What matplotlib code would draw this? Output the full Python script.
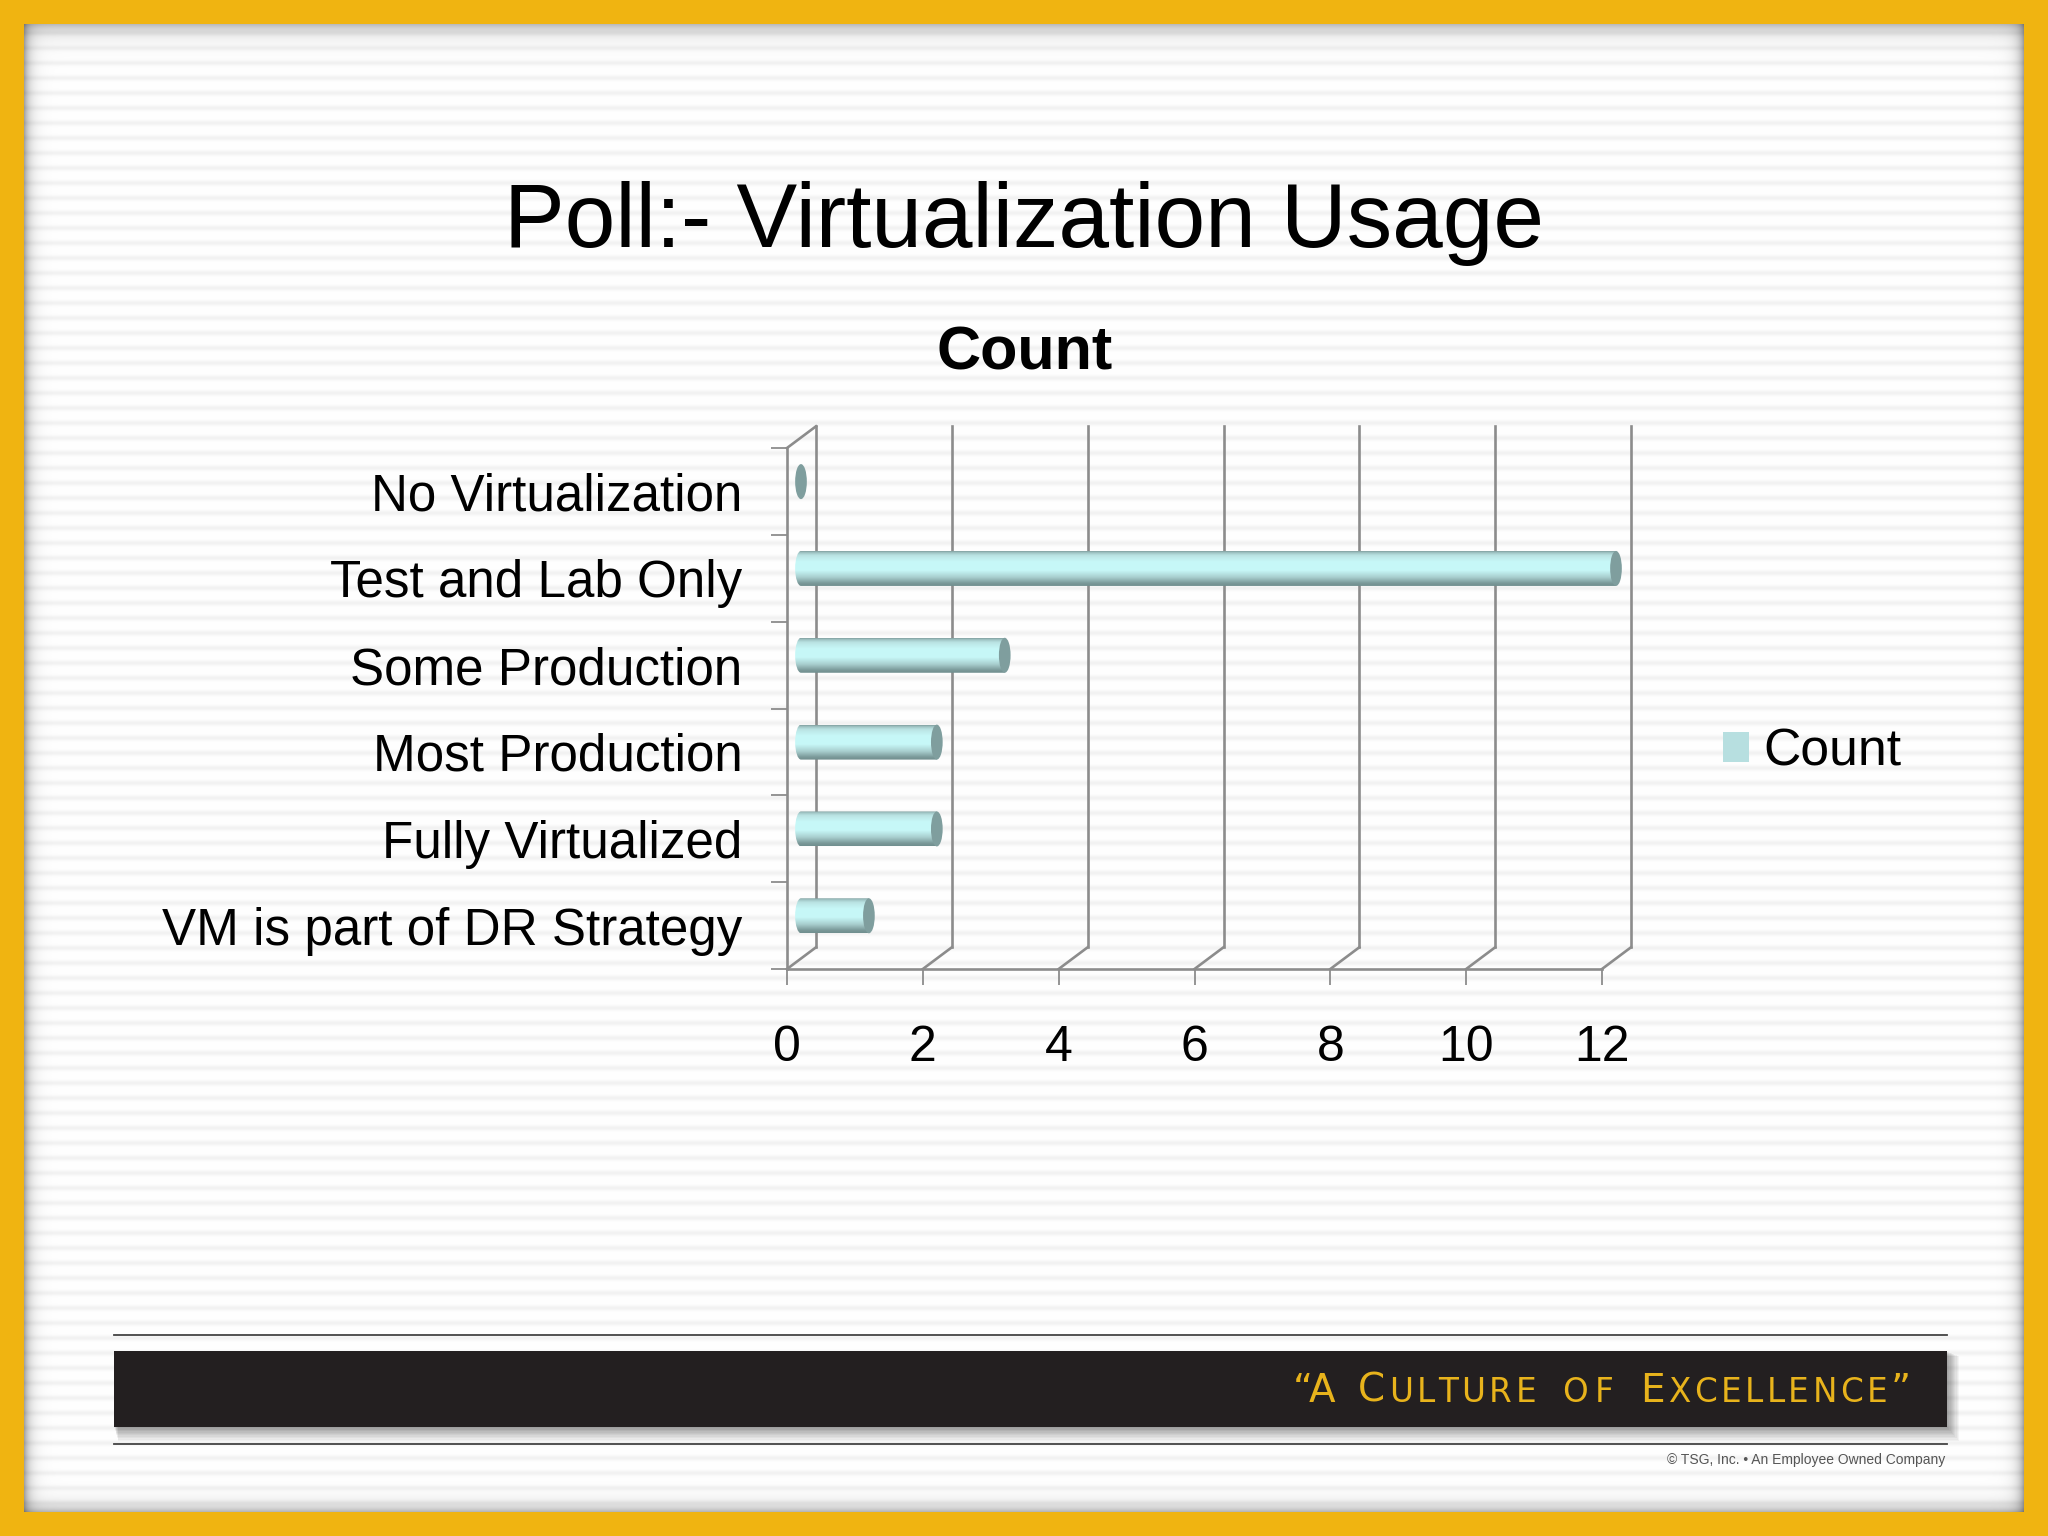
import numpy as np
import matplotlib
matplotlib.use("Agg")
import matplotlib.pyplot as plt
from matplotlib.patches import Rectangle, Ellipse, PathPatch, Patch
from matplotlib.path import Path

W, H = 2048, 1536
categories = ["No Virtualization", "Test and Lab Only", "Some Production",
              "Most Production", "Fully Virtualized", "VM is part of DR Strategy"]
counts = [0, 12, 3, 2, 2, 1]
x_ticks = [0, 2, 4, 6, 8, 10, 12]
title = "Poll:- Virtualization Usage"
chart_title = "Count"
series_name = "Count"
footer_words = ["\u201cA", "CULTURE", "OF", "EXCELLENCE\u201d"]
footer_spans = [(1293, 1335), (1358, 1536), (1562, 1614), (1640, 1911)]
copyright_text = "\u00a9 TSG, Inc. \u2022 An Employee Owned Company"

plt.rcParams["font.family"] = ["Liberation Sans", "DejaVu Sans"]
GOLD = "#F0B411"
GRID = "#8c8c8c"
CAP = "#7F9E9E"

fig = plt.figure(figsize=(W / 100, H / 100), dpi=100, facecolor=GOLD)

# ---------- slide background in pixel coordinates ----------
bg = fig.add_axes([0, 0, 1, 1], zorder=0)
bg.set_xlim(0, W)
bg.set_ylim(H, 0)
bg.axis("off")

L, R, T, B = 24, 2024, 24, 1512
yy = np.arange(T, B) + 0.5
xx = np.arange(L, R) + 0.5
phase = ((yy - 48 + 7.5) % 15) - 7.5
stripe = 1 - 0.05 * np.exp(-(phase / 2.6) ** 2)
panel = np.repeat(stripe[:, None], xx.size, axis=1)
shade = (1 - 0.28 * np.exp(-(yy - T) / 9))[:, None] * (1 - 0.30 * np.exp(-(B - yy) / 7))[:, None]
shade = shade * (1 - 0.38 * np.exp(-(xx - L) / 6))[None, :] * (1 - 0.38 * np.exp(-(R - xx) / 6))[None, :]
panel = panel * shade
bg.imshow(np.dstack([panel] * 3), extent=(L, R, B, T), aspect="auto", vmin=0, vmax=1, zorder=0)
bg.set_xlim(0, W)
bg.set_ylim(H, 0)

# footer band with drop shadow
for k in range(10, 0, -1):
    bg.add_patch(Rectangle((114 + k * 0.4, 1351 + k * 0.5), 1833 + k * 0.8, 76 + k * 0.9,
                           fc="black", ec="none", alpha=0.04, zorder=1))
bg.add_patch(Rectangle((114, 1351), 1833, 76, fc="#231F20", ec="none", zorder=2))
bg.plot([114, 1947], [1335, 1335], color="#444444", lw=1.3, zorder=2)
bg.plot([114, 1947], [1444, 1444], color="#444444", lw=1.3, zorder=2)

fig.canvas.draw()
renderer = fig.canvas.get_renderer()
inv = bg.transData.inverted()


def px_width(artist):
    e = artist.get_window_extent(renderer)
    return inv.transform((e.x1, e.y0))[0] - inv.transform((e.x0, e.y0))[0]


for word, (xa, xb) in zip(footer_words, footer_spans):
    chars = []
    for idx, ch in enumerate(word):
        big = (idx == 0 and word != "OF") or ch in "\u201c\u201dA"
        chars.append(bg.text(xa, 1402, ch, fontsize=28 if big else 23.5, color="#E8B31C",
                             family=["DejaVu Sans"], ha="left", va="baseline", zorder=3))
    widths = [px_width(c) for c in chars]
    gap = (xb - xa - sum(widths)) / max(len(chars) - 1, 1)
    cursor = float(xa)
    for c, wd in zip(chars, widths):
        c.set_x(cursor)
        cursor += wd + gap

bg.text(1945, 1460, copyright_text, fontsize=10, color="#555555", ha="right", va="center",
        family=["Liberation Sans", "DejaVu Sans"], zorder=3)

# ---------- titles ----------
fig.text(1024 / W, 1 - 224 / H, title, fontsize=65.5, color="black", ha="center", va="center")
fig.text(1025 / W, 1 - 354 / H, chart_title, fontsize=44, fontweight="bold", color="black",
         ha="center", va="center")

# ---------- chart ----------
x0, x12, y_top, y_bot = 787, 1602, 448, 969
ax = fig.add_axes([x0 / W, 1 - y_bot / H, (x12 - x0) / W, (y_bot - y_top) / H], zorder=2)
ax.patch.set_alpha(0)
ax.set_xlim(0, 12)
ax.set_ylim(len(categories), 0)

DX, DY = 0.427, 0.25   # depth of the pseudo-3D box, in data units
for side in ("top", "right"):
    ax.spines[side].set_visible(False)
for side in ("left", "bottom"):
    ax.spines[side].set_color(GRID)
    ax.spines[side].set_linewidth(1.9)

n = len(categories)
ax.plot([0, DX], [0, -DY], color=GRID, lw=1.9, clip_on=False, zorder=1)
for v in x_ticks:
    ax.plot([v + DX, v + DX], [n - DY, -DY], color=GRID, lw=1.9, clip_on=False, zorder=1)
    ax.plot([v, v + DX], [n, n - DY], color=GRID, lw=1.9, clip_on=False, zorder=1)

ax.set_xticks(x_ticks)
ax.set_xticklabels([str(v) for v in x_ticks], fontsize=36)
ax.set_yticks(np.arange(n + 1))
ax.set_yticklabels([""] * (n + 1))
ax.tick_params(axis="both", length=11.5, width=1.3, color=GRID)
ax.tick_params(axis="x", pad=29)
ax.set_yticks(np.arange(n) + 0.5, minor=True)
ax.set_yticklabels(categories, minor=True, fontsize=36.8, ha="right")
ax.tick_params(axis="y", which="minor", length=0, pad=32)

# cylinders
stops = np.array([0.0, 0.03, 0.12, 0.30, 0.55, 0.75, 0.92, 1.0])
reds = np.array([0.50, 0.60, 0.73, 0.78, 0.78, 0.66, 0.48, 0.44])
greens = np.array([0.62, 0.74, 0.89, 0.97, 0.97, 0.81, 0.60, 0.56])
blues = np.array([0.62, 0.74, 0.89, 0.97, 0.97, 0.81, 0.60, 0.56])
s = np.linspace(0, 1, 128)
grad = np.dstack([np.interp(s, stops, c)[:, None] for c in (reds, greens, blues)])

BAR_X, BAR_Y, CAP_W, CAP_H = 0.206, -0.113, 0.172, 0.403
for i, v in enumerate(counts):
    cy = i + 0.5 + BAR_Y
    top, bot = cy - CAP_H / 2, cy + CAP_H / 2
    left, right = BAR_X, BAR_X + v
    if v > 0:
        k = 0.5523
        a = CAP_W / 2
        verts = [(right, top), (left, top),
                 (left - a * k, top), (left - a, cy - CAP_H / 2 * k), (left - a, cy),
                 (left - a, cy + CAP_H / 2 * k), (left - a * k, bot), (left, bot),
                 (right, bot), (right, top)]
        codes = [Path.MOVETO, Path.LINETO, Path.CURVE4, Path.CURVE4, Path.CURVE4,
                 Path.CURVE4, Path.CURVE4, Path.CURVE4, Path.LINETO, Path.CLOSEPOLY]
        body = PathPatch(Path(verts, codes), transform=ax.transData, fc="none", ec="none",
                         clip_on=False)
        ax.add_patch(body)
        im = ax.imshow(grad, extent=(left - a, right, bot, top), aspect="auto", zorder=3,
                       interpolation="bilinear")
        im.set_clip_box(fig.bbox)
        im.set_clip_path(body)
    ax.add_patch(Ellipse((right, cy), CAP_W, CAP_H, fc=CAP, ec="none", zorder=4, clip_on=False))
ax.set_xlim(0, 12)
ax.set_ylim(n, 0)

# legend
fig.legend(handles=[Patch(fc="#B7DFE0", ec="none", label=series_name)],
           loc="center left", bbox_to_anchor=(1707.5 / W, 1 - 752 / H), frameon=False,
           fontsize=37.3, handlelength=0.5, handleheight=0.5, handletextpad=0.27,
           borderpad=0.3, borderaxespad=0)

fig.savefig("out.png", dpi=100, facecolor=GOLD)
